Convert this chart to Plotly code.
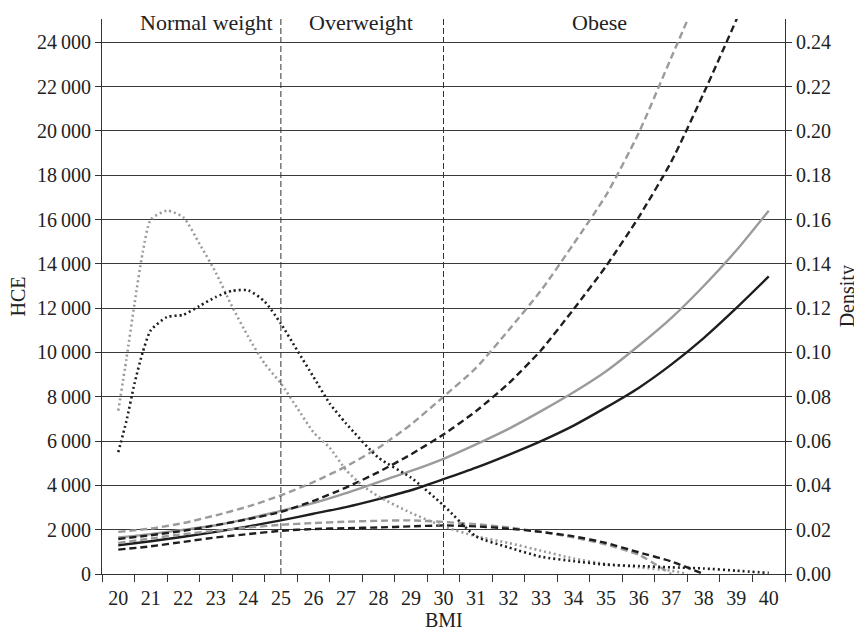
import plotly.graph_objects as go

# ---- data ----
bmi = list(range(20, 41))

hce_gray = [1650, 1800, 2000, 2200, 2500, 2850, 3200, 3650, 4150, 4650, 5200,
            5850, 6550, 7350, 8200, 9150, 10300, 11550, 13000, 14600, 16400]
hce_black = [1300, 1480, 1680, 1900, 2150, 2420, 2720, 3020, 3380, 3780, 4280,
             4800, 5380, 6000, 6700, 7520, 8400, 9450, 10650, 12000, 13430]

upper_gray_x = list(range(20, 39))
upper_gray = [1900, 2050, 2300, 2650, 3050, 3550, 4150, 4850, 5700, 6750, 8000,
              9300, 11000, 12800, 14900, 17100, 19900, 23300, 26700]
upper_black_x = list(range(20, 41))
upper_black = [1580, 1750, 1950, 2200, 2480, 2800, 3300, 3900, 4600, 5400, 6300,
               7350, 8600, 10100, 11950, 13900, 16100, 18600, 21700, 25000, 28500]

lower_gray_x = list(range(20, 38))
lower_gray = [1400, 1600, 1800, 1950, 2100, 2220, 2300, 2360, 2400, 2420, 2350,
              2250, 2100, 1900, 1650, 1330, 870, 0]
lower_black_x = list(range(20, 39))
lower_black = [1100, 1250, 1450, 1650, 1800, 1950, 2030, 2070, 2100, 2150, 2190,
               2150, 2050, 1900, 1700, 1400, 980, 570, 0]

dens_gray_x = [20, 20.25, 20.5, 20.75, 21, 21.5, 22, 22.5, 23, 23.5, 24, 24.5, 25,
               25.5, 26, 26.5, 27, 27.5, 28, 29, 30, 31, 32, 33, 34, 35, 36, 37, 37.5]
dens_gray = [0.0737, 0.097, 0.122, 0.145, 0.160, 0.164, 0.161, 0.149, 0.136, 0.1207,
             0.107, 0.095, 0.086, 0.075, 0.064, 0.057, 0.047, 0.040, 0.035, 0.0276,
             0.0215, 0.017, 0.014, 0.0105, 0.007, 0.0045, 0.003, 0.0015, 0.0]

dens_black_x = [20, 20.25, 20.5, 20.75, 21, 21.5, 22, 22.5, 23, 23.5, 24, 24.5, 25,
                25.5, 26, 26.5, 27, 28, 29, 30, 31, 32, 33, 34, 35, 36, 37, 38, 39, 40]
dens_black = [0.055, 0.069, 0.086, 0.100, 0.110, 0.116, 0.117, 0.121, 0.125, 0.1278,
              0.128, 0.123, 0.113, 0.101, 0.089, 0.077, 0.068, 0.0525, 0.0435, 0.031,
              0.017, 0.012, 0.0078, 0.0058, 0.0042, 0.0036, 0.003, 0.0025, 0.0015, 0.0005]

hce_ticks = list(range(0, 24001, 2000))
hce_ticktext = ["0" if v == 0 else f"{v // 1000}\u2009000" for v in hce_ticks]
dens_ticks = [i / 100 for i in range(0, 25, 2)]
dens_ticktext = [f"{v:.2f}" for v in dens_ticks]

boundaries = [25, 30]
regions = [("Normal weight", 22.7), ("Overweight", 27.45), ("Obese", 34.8)]

GRAY = "#9b9b9b"
BLACK = "#1e1e1e"
FONT = "Liberation Serif"
TXT = "#222222"

fig = go.Figure()

def add(x, y, color, dash, width, axis="y"):
    fig.add_trace(go.Scatter(x=x, y=y, mode="lines", yaxis=axis,
                             line=dict(color=color, dash=dash, width=width, shape="spline",
                                       smoothing=0.6),
                             showlegend=False, hoverinfo="skip"))

add(bmi, hce_gray, GRAY, "solid", 2.4)
add(bmi, hce_black, BLACK, "solid", 2.4)
add(upper_gray_x, upper_gray, GRAY, "7px,4px", 2.4)
add(upper_black_x, upper_black, BLACK, "7px,4px", 2.4)
add(lower_gray_x, lower_gray, GRAY, "7px,4px", 2.4)
add(lower_black_x, lower_black, BLACK, "7px,4px", 2.4)
add(dens_gray_x, dens_gray, GRAY, "2px,3px", 2.6, axis="y2")
add(dens_black_x, dens_black, BLACK, "2px,3px", 2.6, axis="y2")

for b in boundaries:
    fig.add_shape(type="line", xref="x", yref="paper", x0=b, x1=b, y0=0, y1=1,
                  line=dict(color="#333333", width=1, dash="6px,3px"))

annotations = []
for name, xc in regions:
    annotations.append(dict(text=name, x=xc, xref="x", y=0.994, yref="paper",
                            xanchor="center", yanchor="middle", showarrow=False,
                            font=dict(family=FONT, size=22, color=TXT)))
annotations.append(dict(text="HCE", x=-0.123, xref="paper", y=0.5, yref="paper",
                        xanchor="center", yanchor="middle",
                        textangle=-90, showarrow=False,
                        font=dict(family=FONT, size=20, color=TXT)))
annotations.append(dict(text="Density", x=1.092, xref="paper", y=0.5, yref="paper",
                        xanchor="center", yanchor="middle",
                        textangle=-90, showarrow=False,
                        font=dict(family=FONT, size=20, color=TXT)))
annotations.append(dict(text="BMI", x=0.5, xref="paper", y=-0.083, yref="paper",
                        xanchor="center", yanchor="middle", showarrow=False,
                        font=dict(family=FONT, size=20, color=TXT)))

fig.update_layout(
    width=854, height=623,
    margin=dict(l=94, r=77, t=11, b=57),
    plot_bgcolor="white", paper_bgcolor="white",
    font=dict(family=FONT, size=20, color=TXT),
    annotations=annotations,
    xaxis=dict(range=[19.5, 40.5], tickvals=bmi, ticktext=[str(v) for v in bmi],
               ticks="outside", ticklen=6, tickcolor="rgba(0,0,0,0)",
               showgrid=False, zeroline=False, showline=True, linecolor="#333333",
               linewidth=1,
               minor=dict(tick0=19.5, dtick=1, ticks="outside", ticklen=7,
                          tickcolor="#333333", showgrid=False)),
    yaxis=dict(range=[0, 25050], tickvals=hce_ticks, ticktext=hce_ticktext,
               ticks="outside", ticklen=6, tickcolor="#333333",
               showgrid=True, gridcolor="#3a3a3a", gridwidth=1,
               zeroline=False, showline=True, linecolor="#333333", linewidth=1),
    yaxis2=dict(range=[0, 0.2505], tickvals=dens_ticks, ticktext=dens_ticktext,
                overlaying="y", side="right",
                ticks="outside", ticklen=6, tickcolor="#333333",
                showgrid=False, zeroline=False, showline=True,
                linecolor="#333333", linewidth=1),
)

fig.write_html("out.html")
